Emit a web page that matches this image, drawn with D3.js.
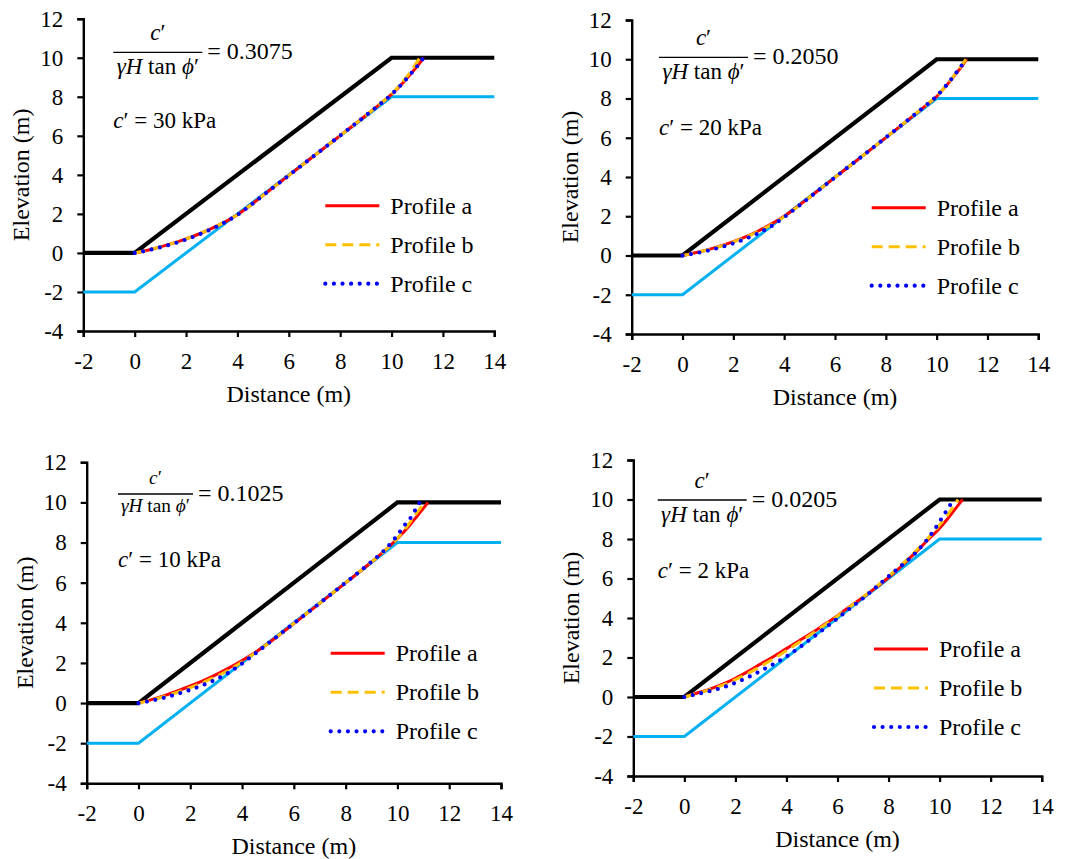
<!DOCTYPE html>
<html>
<head>
<meta charset="utf-8">
<script src="https://cdn.jsdelivr.net/npm/d3@7"></script>
<style>
  html, body { margin: 0; padding: 0; background: #fff; }
  svg { display: block; }
</style>
</head>
<body>
<svg id="chart" width="1069" height="859"></svg>
<script>
// ---------------- data ----------------
const xTicks = [-2, 0, 2, 4, 6, 8, 10, 12, 14];
const yTicks = [-4, -2, 0, 2, 4, 6, 8, 10, 12];
const groundX = [-2, 0, 10, 14];
const groundY = [0, 0, 10, 10];
const boundX = [-2, 0, 10, 14];
const boundY = [-2, -2, 8, 8];
const ratios = ["0.3075", "0.2050", "0.1025", "0.0205"];
const cohesions = [30, 20, 10, 2];
const profileNames = ["Profile a", "Profile b", "Profile c"];

// c' = 30 kPa
const p30a = [[0,0],[0.5,0.14],[1,0.31],[1.5,0.5],[2,0.72],[2.5,0.97],[3,1.26],[3.5,1.58],[4,1.96],[4.5,2.43],[5,2.95],[6,3.97],[7,4.99],[8,6.01],[9,7.04],[9.5,7.57],[10,8.12],[10.4,8.65],[10.8,9.25],[11.05,9.65],[11.25,10]];
const p30b = [[0,0],[0.5,0.14],[1,0.31],[1.5,0.5],[2,0.72],[2.5,0.97],[3,1.26],[3.5,1.58],[4,1.96],[4.5,2.43],[5,2.95],[6,3.97],[7,4.99],[8,6.01],[9,7.04],[9.5,7.58],[10,8.14],[10.4,8.72],[10.75,9.3],[10.95,9.7],[11.1,10]];
const p30c = [[0,0],[0.5,0.13],[1,0.29],[1.5,0.47],[2,0.69],[2.5,0.94],[3,1.23],[3.5,1.56],[4,1.95],[4.5,2.43],[5,2.95],[6,3.97],[7,4.99],[8,6.01],[9,7.04],[9.5,7.57],[10,8.12],[10.4,8.65],[10.8,9.25],[11.05,9.65],[11.25,10]];
// c' = 20 kPa
const p20a = [[0,0],[0.5,0.14],[1,0.3],[1.5,0.49],[2,0.71],[2.5,0.96],[3,1.26],[3.5,1.61],[4,2.0],[4.5,2.47],[5,2.97],[6,3.98],[7,4.99],[8,6.01],[9,7.04],[9.5,7.56],[10,8.1],[10.4,8.68],[10.75,9.25],[11,9.65],[11.18,10]];
const p20b = [[0,0],[0.5,0.13],[1,0.29],[1.5,0.47],[2,0.69],[2.5,0.94],[3,1.23],[3.5,1.58],[4,1.98],[4.5,2.46],[5,2.97],[6,3.98],[7,4.99],[8,6.01],[9,7.04],[9.5,7.57],[10,8.12],[10.4,8.7],[10.75,9.28],[10.98,9.68],[11.15,10]];
const p20c = [[0,0],[0.5,0.11],[1,0.25],[1.5,0.42],[2,0.62],[2.5,0.86],[3,1.15],[3.5,1.5],[4,1.95],[4.5,2.45],[5,2.96],[6,3.98],[7,4.99],[8,6.01],[9,7.04],[9.5,7.57],[10,8.12],[10.4,8.7],[10.75,9.28],[10.98,9.68],[11.15,10]];
// c' = 10 kPa
const p10a = [[0,0],[0.5,0.17],[1,0.37],[1.5,0.6],[2,0.85],[2.5,1.12],[3,1.42],[3.5,1.75],[4,2.12],[4.5,2.52],[5,2.97],[6,3.96],[7,4.97],[8,5.99],[9,7.03],[9.5,7.58],[10,8.2],[10.4,8.75],[10.75,9.3],[11,9.7],[11.18,10]];
const p10b = [[0,0],[0.5,0.15],[1,0.33],[1.5,0.54],[2,0.77],[2.5,1.03],[3,1.32],[3.5,1.66],[4,2.05],[4.5,2.5],[5,2.97],[6,3.97],[7,4.98],[8,6.0],[9,7.03],[9.5,7.58],[10,8.22],[10.4,8.85],[10.7,9.4],[10.9,9.75],[11.0,10]];
const p10c = [[0,0],[0.5,0.12],[1,0.27],[1.5,0.45],[2,0.66],[2.5,0.9],[3,1.18],[3.5,1.53],[4,1.97],[4.5,2.46],[5,2.96],[6,3.97],[7,4.98],[8,6.0],[9,7.05],[9.5,7.62],[9.9,8.2],[10.28,8.87],[10.54,9.29],[10.73,9.71],[10.86,10]];
// c' = 2 kPa
const p2a = [[0,0],[0.5,0.2],[1,0.4],[1.5,0.65],[2,0.95],[2.5,1.3],[3,1.68],[3.5,2.05],[4,2.45],[4.5,2.85],[5,3.25],[5.5,3.68],[6,4.12],[6.5,4.6],[7,5.05],[7.5,5.54],[8,6.05],[8.5,6.62],[9,7.25],[9.5,7.9],[10,8.55],[10.3,9.0],[10.6,9.5],[10.9,10]];
const p2b = [[0,0],[0.5,0.18],[1,0.37],[1.5,0.6],[2,0.88],[2.5,1.2],[3,1.56],[3.5,1.94],[4,2.35],[4.5,2.77],[5,3.2],[5.5,3.65],[6,4.1],[6.5,4.58],[7,5.06],[7.5,5.57],[8,6.1],[8.5,6.68],[9,7.3],[9.5,7.98],[10,8.7],[10.3,9.2],[10.55,9.65],[10.72,10]];
const p2c = [[0,0],[0.5,0.15],[1,0.3],[1.5,0.48],[2,0.72],[2.5,1.0],[3,1.33],[3.5,1.67],[4,2.05],[4.5,2.5],[5,2.98],[5.5,3.48],[6,3.98],[6.5,4.5],[7,5.0],[7.5,5.55],[8,6.1],[8.5,6.65],[9,7.22],[9.5,7.95],[9.77,8.42],[10.15,9.19],[10.4,9.69],[10.53,10]];

const profileSets = [[p30a, p30b, p30c], [p20a, p20b, p20c], [p10a, p10b, p10c], [p2a, p2b, p2c]];

// ---------------- layout ----------------
const layout = [
  { left: 83.3,  right: 494.3,  top: 18.7,  bottom: 331,   fracX: 30,   fracY: 33.6, fracW: 89, fracScale: 1,    cY: 76,   legX: 242,   legY: 187 },
  { left: 631.7, right: 1038.3, top: 20,    bottom: 334,   fracX: 27.3, fracY: 37.3, fracW: 89, fracScale: 1,    cY: 77.7, legX: 240,   legY: 187.7 },
  { left: 86.7,  right: 501,    top: 462.3, bottom: 783.3, fracX: 31.3, fracY: 31.7, fracW: 75, fracScale: 0.84, cY: 72.7, legX: 244,   legY: 191 },
  { left: 633.3, right: 1041.7, top: 460,   bottom: 776,   fracX: 24.4, fracY: 40,   fracW: 89, fracScale: 1,    cY: 78.3, legX: 240.7, legY: 189 }
];
const styles = [
  { color: "#FF0000", width: 3, dash: null, cap: "butt" },
  { color: "#FFC000", width: 3, dash: "11 6", cap: "butt" },
  { color: "#0000FF", width: 4.2, dash: "0 8.6", cap: "round" }
];
const legSpacing = 39;
const fs = 23;
const FONT = "'Liberation Serif', 'Times New Roman', serif";

const svg = d3.select("#chart");

layout.forEach((L, i) => {
  const x = d3.scaleLinear().domain([-2, 14]).range([L.left, L.right]);
  const y = d3.scaleLinear().domain([-4, 12]).range([L.bottom, L.top]);
  const g = svg.append("g");

  const line = d3.line().x(d => x(d[0])).y(d => y(d[1]));
  const curve = d3.line().x(d => x(d[0])).y(d => y(d[1])).curve(d3.curveMonotoneX);

  // axes
  const xAxis = d3.axisBottom(x).tickValues(xTicks).tickSize(6).tickPadding(15).tickFormat(d => String(d));
  const yAxis = d3.axisLeft(y).tickValues(yTicks).tickSize(6).tickPadding(14).tickFormat(d => String(d));
  const gx = g.append("g").attr("transform", `translate(0,${L.bottom})`).call(xAxis);
  const gy = g.append("g").attr("transform", `translate(${L.left},0)`).call(yAxis);
  [gx, gy].forEach(a => {
    a.attr("font-family", null).attr("font-size", null);
    a.select(".domain").attr("stroke", "#000").attr("stroke-width", 2.4);
    a.selectAll(".tick line").attr("stroke", "#000").attr("stroke-width", 2.2);
    a.selectAll(".tick text").attr("fill", "#000").style("font-size", fs + "px");
  });
  gx.selectAll(".tick text").attr("dy", "0.74em");

  // axis titles
  g.append("text").attr("x", (L.left + L.right) / 2).attr("y", L.bottom + 71)
    .attr("text-anchor", "middle").style("font-size", "24px").text("Distance (m)");
  g.append("text")
    .attr("transform", `translate(${L.left - 62},${(L.top + L.bottom) / 2}) rotate(-90)`)
    .attr("text-anchor", "middle").attr("dominant-baseline", "central")
    .style("font-size", "24px").text("Elevation (m)");

  // ground & boundary
  g.append("path").datum(boundX.map((v, k) => [v, boundY[k]]))
    .attr("d", line).attr("fill", "none").attr("stroke", "#00B0F0").attr("stroke-width", 3);
  g.append("path").datum(groundX.map((v, k) => [v, groundY[k]]))
    .attr("d", line).attr("fill", "none").attr("stroke", "#000").attr("stroke-width", 4.2);

  // profiles
  profileSets[i].forEach((p, k) => {
    const s = styles[k];
    g.append("path").datum(p).attr("d", curve).attr("fill", "none")
      .attr("stroke", s.color).attr("stroke-width", s.width)
      .attr("stroke-dasharray", s.dash).attr("stroke-linecap", s.cap);
  });

  // legend
  profileNames.forEach((name, k) => {
    const s = styles[k];
    const ly = L.top + L.legY + k * legSpacing;
    const lx = L.left + L.legX;
    g.append("line").attr("x1", lx).attr("x2", lx + 54).attr("y1", ly).attr("y2", ly)
      .attr("stroke", s.color).attr("stroke-width", s.width)
      .attr("stroke-dasharray", s.dash).attr("stroke-linecap", s.cap);
    g.append("text").attr("x", lx + 65).attr("y", ly).attr("dominant-baseline", "central")
      .style("font-size", "24px").text(name);
  });

  // annotation: fraction
  const fx = L.left + L.fracX, fy = L.top + L.fracY;
  const ffs = fs * L.fracScale;
  g.append("line").attr("x1", fx).attr("x2", fx + L.fracW).attr("y1", fy).attr("y2", fy)
    .attr("stroke", "#000").attr("stroke-width", 1.3);
  const num = g.append("text").attr("x", fx + L.fracW / 2).attr("y", fy - 12 * L.fracScale)
    .attr("text-anchor", "middle").style("font-size", ffs + "px");
  num.append("tspan").style("font-style", "italic").text("c");
  num.append("tspan").text("′");
  const den = g.append("text").attr("x", fx + L.fracW / 2).attr("y", fy + 22 * L.fracScale)
    .attr("text-anchor", "middle").style("font-size", ffs + "px");
  den.append("tspan").style("font-style", "italic").text("γH");
  den.append("tspan").text(" tan ");
  den.append("tspan").style("font-style", "italic").text("ϕ");
  den.append("tspan").text("′");
  g.append("text").attr("x", fx + L.fracW + 5).attr("y", fy + 7).style("font-size", (fs + 1) + "px")
    .text("= " + ratios[i]);

  const ct = g.append("text").attr("x", fx).attr("y", fy + L.cY).style("font-size", fs + "px");
  ct.append("tspan").style("font-style", "italic").text("c");
  ct.append("tspan").text("′ = " + cohesions[i] + " kPa");
});

svg.selectAll("text").style("font-family", FONT).style("fill", "#000");
</script>
</body>
</html>
